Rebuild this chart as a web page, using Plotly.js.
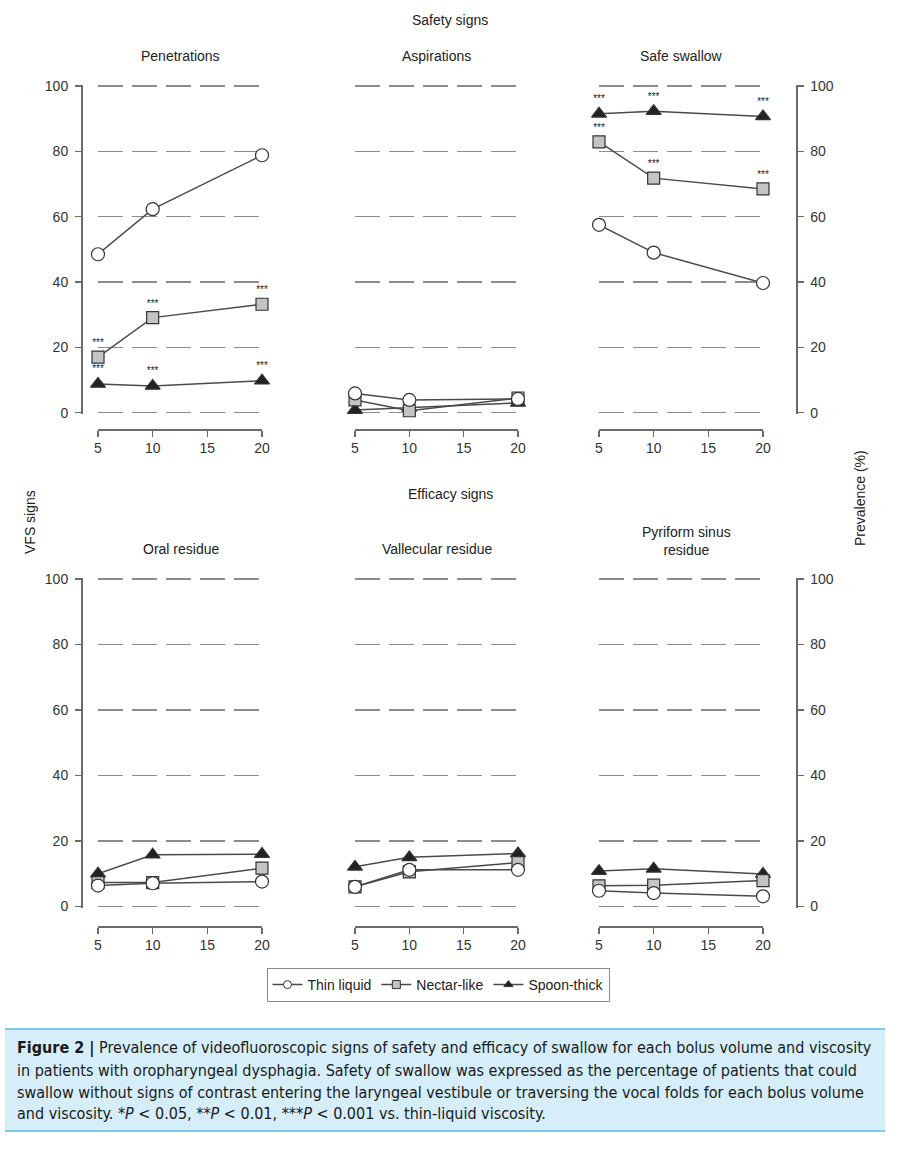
<!DOCTYPE html>
<html>
<head>
<meta charset="utf-8">
<script src="https://cdn.plot.ly/plotly-3.0.1.min.js"></script>
<style>
  html, body { margin: 0; padding: 0; background: #fff; }
  #chart { width: 900px; height: 1150px; }
</style>
</head>
<body>
<div id="chart"></div>
<script>
// ---- Data ----
const volumes = [5, 10, 20];
const seriesNames = ['Thin liquid', 'Nectar-like', 'Spoon-thick'];

const penThin   = [48.5, 62.3, 78.8];
const penNectar = [17.0, 29.1, 33.2];
const penSpoon  = [8.8, 8.2, 9.8];

const aspThin   = [5.9, 3.9, 4.2];
const aspNectar = [3.9, 0.6, 4.5];
const aspSpoon  = [0.8, 1.5, 3.0];

const safeThin   = [57.5, 49.0, 39.7];
const safeNectar = [82.9, 71.8, 68.5];
const safeSpoon  = [91.5, 92.3, 90.7];

const oralThin   = [6.4, 7.1, 7.6];
const oralNectar = [7.3, 7.3, 11.7];
const oralSpoon  = [10.0, 15.8, 16.0];

const valThin   = [6.0, 11.2, 11.2];
const valNectar = [6.0, 10.6, 13.4];
const valSpoon  = [12.1, 15.0, 16.2];

const pyrThin   = [4.8, 4.1, 3.1];
const pyrNectar = [6.3, 6.5, 7.9];
const pyrSpoon  = [10.8, 11.5, 9.9];

const sigAll  = ['***', '***', '***'];
const sigNone = ['', '', ''];

const xTicks = [5, 10, 15, 20];
const yTicks = [0, 20, 40, 60, 80, 100];

const panelTitles = ['Penetrations', 'Aspirations', 'Safe swallow',
                     'Oral residue', 'Vallecular residue', 'Pyriform sinus<br>residue'];

const captionLines = [
  '<b>Figure 2 |</b> Prevalence of videofluoroscopic signs of safety and efficacy of swallow for each bolus volume and viscosity',
  'in patients with oropharyngeal dysphagia. Safety of swallow was expressed as the percentage of patients that could',
  'swallow without signs of contrast entering the laryngeal vestibule or traversing the vocal folds for each bolus volume',
  'and viscosity. *<i>P</i> &lt; 0.05, **<i>P</i> &lt; 0.01, ***<i>P</i> &lt; 0.001 vs. thin-liquid viscosity.'
];

const panels = [
  {thin: penThin,  nectar: penNectar,  spoon: penSpoon,  sigN: sigAll,  sigS: sigAll},
  {thin: aspThin,  nectar: aspNectar,  spoon: aspSpoon,  sigN: sigNone, sigS: sigNone},
  {thin: safeThin, nectar: safeNectar, spoon: safeSpoon, sigN: sigAll,  sigS: sigAll},
  {thin: oralThin, nectar: oralNectar, spoon: oralSpoon, sigN: sigNone, sigS: sigNone},
  {thin: valThin,  nectar: valNectar,  spoon: valSpoon,  sigN: sigNone, sigS: sigNone},
  {thin: pyrThin,  nectar: pyrNectar,  spoon: pyrSpoon,  sigN: sigNone, sigS: sigNone}
];

// ---- Styling ----
const W = 900, H = 1150;
const px = v => v / W;
const py = v => 1 - v / H;
const FONT = 'Liberation Sans, Arial, Helvetica, sans-serif';
const CAPFONT = 'DejaVu Sans Condensed, Liberation Sans Narrow, Roboto Condensed, Arial Narrow, sans-serif';
const lineCol = '#4a4a4a';
const edgeCol = '#333333';

const styles = [
  {symbol: 'circle', size: 13, color: '#ffffff'},
  {symbol: 'square', size: 12, color: '#c4c4c4'},
  {symbol: 'triangle-up', size: 13, color: '#222222'}
];

const traces = [];
panels.forEach((p, i) => {
  const ax = i === 0 ? '' : String(i + 1);
  const seriesVals = [p.thin, p.nectar, p.spoon];
  const sigs = [sigNone, p.sigN, p.sigS];
  [2, 1, 0].forEach(k => {
    traces.push({
      type: 'scatter',
      mode: 'lines+markers+text',
      x: volumes,
      y: seriesVals[k],
      text: sigs[k],
      textposition: 'top center',
      textfont: {family: FONT, size: 10, color: '#222'},
      name: seriesNames[k],
      showlegend: false,
      cliponaxis: false,
      xaxis: 'x' + ax,
      yaxis: 'y' + ax,
      line: {color: lineCol, width: 1.5},
      marker: {symbol: styles[k].symbol, size: styles[k].size, color: styles[k].color,
               line: {color: edgeCol, width: 1.2}},
      hoverinfo: 'x+y+name'
    });
  });
});

// legend entries (small symbols as in the reference legend)
[0, 1, 2].forEach(k => {
  traces.push({
    type: 'scatter', mode: 'lines+markers',
    x: [null], y: [null],
    name: seriesNames[k],
    showlegend: true,
    xaxis: 'x', yaxis: 'y',
    line: {color: lineCol, width: 1.5},
    marker: {symbol: styles[k].symbol, size: 8, color: styles[k].color,
             line: {color: edgeCol, width: 1}}
  });
});

// ---- Axes ----
const xDomains = [[98, 262], [355, 518], [599, 763]];
const yDomainsTop = [py(414.0), py(84.7)];
const yDomainsBot = [py(907.8), py(577.7)];
const xAxisPosTop = py(429);
const xAxisPosBot = py(926);

const layout = {
  width: W, height: H,
  margin: {l: 0, r: 0, t: 0, b: 0},
  paper_bgcolor: '#ffffff',
  plot_bgcolor: '#ffffff',
  font: {family: FONT, size: 14, color: '#333'},
  showlegend: true,
  legend: {
    orientation: 'h',
    x: px(438), xanchor: 'center',
    y: py(968), yanchor: 'top',
    bordercolor: '#8a8a8a', borderwidth: 1,
    font: {family: FONT, size: 14, color: '#222'},
    bgcolor: '#ffffff',
    itemsizing: 'trace'
  },
  annotations: [],
  shapes: []
};

for (let i = 0; i < 6; i++) {
  const col = i % 3;
  const row = Math.floor(i / 3);
  const ax = i === 0 ? '' : String(i + 1);
  layout['xaxis' + ax] = {
    domain: [px(xDomains[col][0]), px(xDomains[col][1])],
    range: [5, 20],
    tickvals: xTicks,
    ticks: 'outside', ticklen: 6, tickwidth: 1.5, tickcolor: '#6a6a6a',
    showline: true, linecolor: '#6a6a6a', linewidth: 1.5,
    showgrid: false, zeroline: false,
    anchor: 'free',
    position: row === 0 ? xAxisPosTop : xAxisPosBot,
    tickfont: {family: FONT, size: 14, color: '#333'},
    fixedrange: true
  };
  const yax = {
    domain: row === 0 ? yDomainsTop : yDomainsBot,
    range: [-0.4, 100.4],
    tickvals: yTicks,
    showgrid: true, gridcolor: '#8c8c8c', gridwidth: 1.5, griddash: '25px,9px',
    zeroline: false,
    tickfont: {family: FONT, size: 14, color: '#333'},
    fixedrange: true
  };
  if (col === 0) {
    Object.assign(yax, {anchor: 'free', position: px(81), side: 'left',
      showline: true, linecolor: '#6a6a6a', linewidth: 1.5,
      ticks: 'outside', ticklen: 6, tickwidth: 1.5, tickcolor: '#6a6a6a',
      ticklabelstandoff: 4, showticklabels: true});
  } else if (col === 2) {
    Object.assign(yax, {anchor: 'free', position: px(796), side: 'right',
      showline: true, linecolor: '#6a6a6a', linewidth: 1.5,
      ticks: 'outside', ticklen: 6, tickwidth: 1.5, tickcolor: '#6a6a6a',
      ticklabelstandoff: 4, showticklabels: true});
  } else {
    Object.assign(yax, {anchor: 'x' + ax, showline: false, ticks: '', showticklabels: false});
  }
  layout['yaxis' + ax] = yax;
}

// ---- Titles ----
const addText = (text, x, y, opts = {}) => {
  layout.annotations.push(Object.assign({
    text: text, xref: 'paper', yref: 'paper', x: px(x), y: py(y),
    xanchor: 'center', yanchor: 'middle', showarrow: false,
    font: {family: FONT, size: 14, color: '#222'}
  }, opts));
};
addText('Safety signs', 450, 20);
addText('Efficacy signs', 450, 494);
const titlePos = [[180, 56], [436, 56], [681, 56], [181, 549], [437, 549], [686, 541]];
panelTitles.forEach((t, i) => addText(t, titlePos[i][0], titlePos[i][1]));
addText('VFS signs', 30, 522, {textangle: -90});
addText('Prevalence (%)', 860, 498, {textangle: -90});

// ---- Caption box ----
layout.shapes.push({type: 'rect', xref: 'paper', yref: 'paper',
  x0: px(5), x1: px(885), y0: py(1131), y1: py(1029),
  fillcolor: '#d5eef9', line: {width: 0}, layer: 'below'});
layout.shapes.push({type: 'line', xref: 'paper', yref: 'paper',
  x0: px(5), x1: px(885), y0: py(1029), y1: py(1029),
  line: {color: '#5bbbe6', width: 1.5}});
layout.shapes.push({type: 'line', xref: 'paper', yref: 'paper',
  x0: px(5), x1: px(885), y0: py(1131), y1: py(1131),
  line: {color: '#5bbbe6', width: 1.5}});

const captionY = [1048, 1070, 1092, 1113];
captionLines.forEach((line, i) => {
  layout.annotations.push({
    text: line, xref: 'paper', yref: 'paper', x: px(15), y: py(captionY[i]),
    xanchor: 'left', yanchor: 'middle', align: 'left', showarrow: false,
    font: {family: CAPFONT, size: 16, color: '#1a1a1a'}
  });
});

Plotly.newPlot('chart', traces, layout, {displayModeBar: false, staticPlot: true});
</script>
</body>
</html>
